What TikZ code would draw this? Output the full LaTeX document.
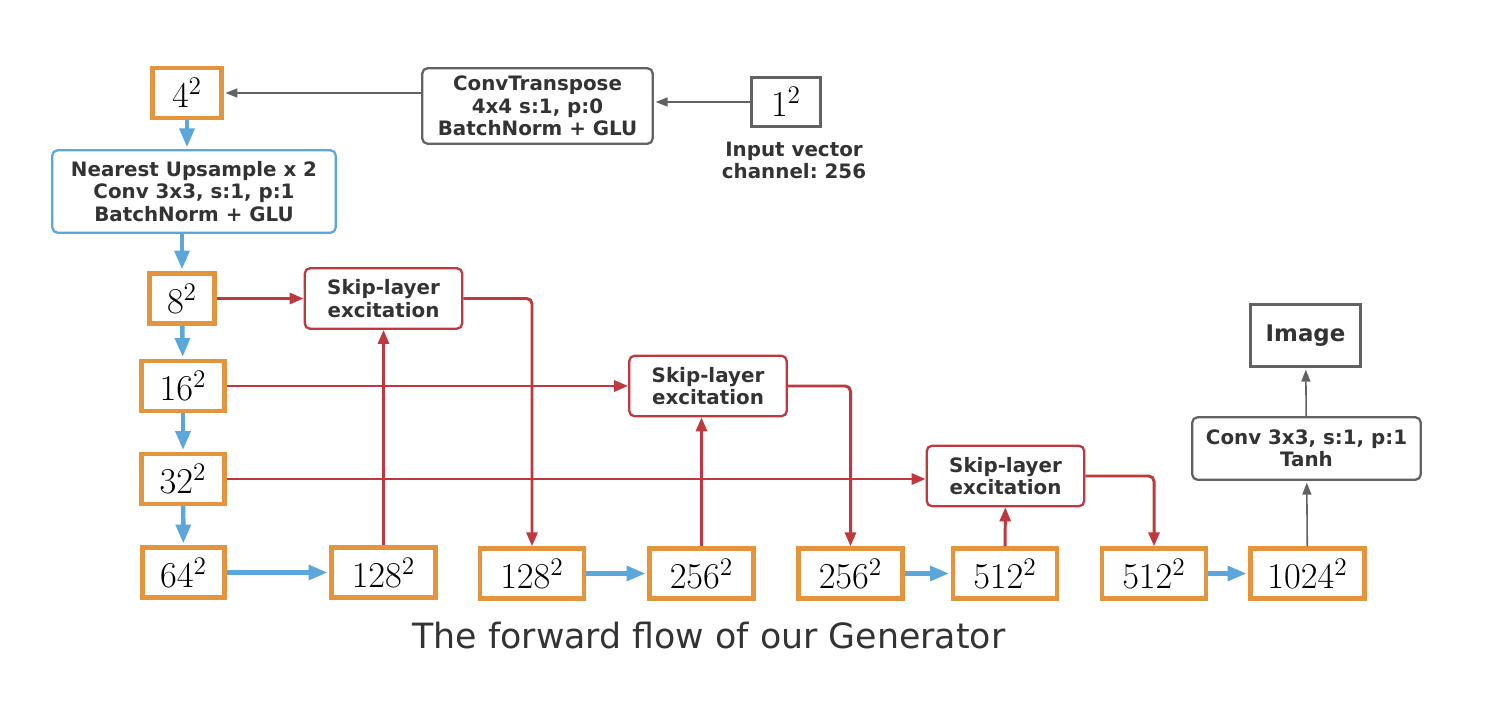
\documentclass[tikz,border=0pt]{standalone}
\usepackage{amsmath}
\usepackage{fontspec}
\newfontfamily\dejavu{DejaVu Sans}
\usetikzlibrary{arrows.meta,positioning}
\definecolor{orangeC}{RGB}{229,148,62}
\definecolor{blueC}{RGB}{91,166,218}
\definecolor{redC}{RGB}{190,56,62}
\definecolor{grayC}{RGB}{98,98,98}
\definecolor{txtC}{RGB}{51,51,51}
\frenchspacing

\begin{document}
\begin{tikzpicture}[x=0.02cm,y=-0.02cm,
                    fmap/.style={draw=orangeC,line width=2.5pt,fill=white,inner sep=0pt,
                      minimum height=1cm,minimum width=#1,font=\fontsize{20.5}{22}\selectfont},
                    fmap/.default=2.08cm,
                    op/.style={draw,rounded corners=3pt,line width=1.3pt,fill=white,
                      text=txtC,align=center,font=\dejavu\bfseries\fontsize{11.3}{12.8}\selectfont},
                    skip/.style={op,draw=redC,minimum width=3.15cm,minimum height=1.21cm},
                    flow/.style={-{Triangle[length=0.38cm,width=0.29cm]},line width=2.6pt,
                      color=blueC,shorten >=1pt},
                    excite/.style={-{Triangle[length=0.28cm,width=0.22cm]},line width=1.7pt,
                      color=redC},
                    down/.style={rounded corners=3pt,to path={(\tikztostart) -| (\tikztotarget)}},
                    plain/.style={-{Triangle[length=0.24cm,width=0.18cm]},line width=0.9pt,
                      color=grayC,shorten >=1pt}]

  \useasboundingbox (0,0) rectangle (1512,716);

  \node[fmap=1.38cm]  (n4)    at (187,93)      {$4^2$};
  \node[op,draw=grayC,minimum width=4.61cm,minimum height=1.51cm]
                      (ct)    at (537.5,106)   {ConvTranspose\\4x4 s:1, p:0\\BatchNorm + GLU};
  \node[draw=grayC,line width=1.6pt,minimum width=1.38cm,minimum height=0.98cm,
        font=\fontsize{20.5}{22}\selectfont]
                      (one)   at (786,102)     {$1^2$};
  \node[op,draw=none,fill=none,inner sep=0pt,below=0.25cm of one,xshift=0.16cm]
                      (inp)                    {Input vector\\channel: 256};
  \node[op,draw=blueC,minimum width=5.67cm,minimum height=1.65cm]
                      (up)    at (194,191.5)   {Nearest Upsample x 2\\Conv 3x3, s:1, p:1\\BatchNorm + GLU};

  \node[fmap=1.3cm]   (n8)    at (182,298.5)   {$8^2$};
  \node[fmap=1.66cm]  (n16)   at (183,386)     {$16^2$};
  \node[fmap=1.66cm]  (n32)   at (183,479)     {$32^2$};
  \node[fmap=1.64cm]  (n64)   at (183.5,572.5) {$64^2$};
  \node[fmap]         (n128a) at (383.5,572.5) {$128^2$};
  \node[fmap]         (n128b) at (532,573.5)   {$128^2$};
  \node[fmap]         (n256a) at (701.5,573.5) {$256^2$};
  \node[fmap]         (n256b) at (850.5,573.5) {$256^2$};
  \node[fmap]         (n512a) at (1005,573.5)  {$512^2$};
  \node[fmap]         (n512b) at (1154,573.5)  {$512^2$};
  \node[fmap=2.28cm]  (n1024) at (1307.5,573.5){$1024^2$};

  \node[skip]         (sk1)   at (383.5,298.5) {Skip-layer\\excitation};
  \node[skip]         (sk2)   at (708,386)     {Skip-layer\\excitation};
  \node[skip]         (sk3)   at (1005.5,476)  {Skip-layer\\excitation};

  \node[op,draw=grayC,minimum width=4.57cm,minimum height=1.25cm]
                      (conv)  at (1306.5,448.5){Conv 3x3, s:1, p:1\\Tanh};
  \node[op,draw=grayC,rounded corners=0pt,line width=1.6pt,minimum width=2.2cm,
        minimum height=1.24cm,font=\dejavu\bfseries\fontsize{13}{15}\selectfont]
                      (img)   at (1305.5,335.5){Image};

  \node[font=\dejavu\fontsize{19.8}{22}\selectfont,text=txtC,anchor=base]
                      (title) at (709,648)     {The forward flow of our Generator};

  \path[plain] (one)             edge (one -| ct.east)
               (ct.west |- n4)   edge (n4)
               (n1024)           edge (conv)
               (conv)            edge (img);

  \path[flow]  (n4)              edge (n4 |- up.north)
               (up.south -| n8)  edge (n8)
               (n8)              edge (n16)
               (n16)             edge (n32)
               (n32)             edge (n64)
               (n64)             edge (n128a)
               (n128b)           edge (n256a)
               (n256b)           edge (n512a)
               (n512b)           edge (n1024);

  \path[excite] (n8)             edge (sk1)
                (n16)            edge (sk2)
                (n32)            edge (n32 -| sk3.west)
                (n128a)          edge (sk1)
                (n256a)          edge (n256a |- sk2.south)
                (n512a)          edge (sk3)
                (sk1)            edge [down] (n128b)
                (sk2)            edge [down] (n256b)
                (sk3)            edge [down] (n512b);
\end{tikzpicture}
\end{document}
